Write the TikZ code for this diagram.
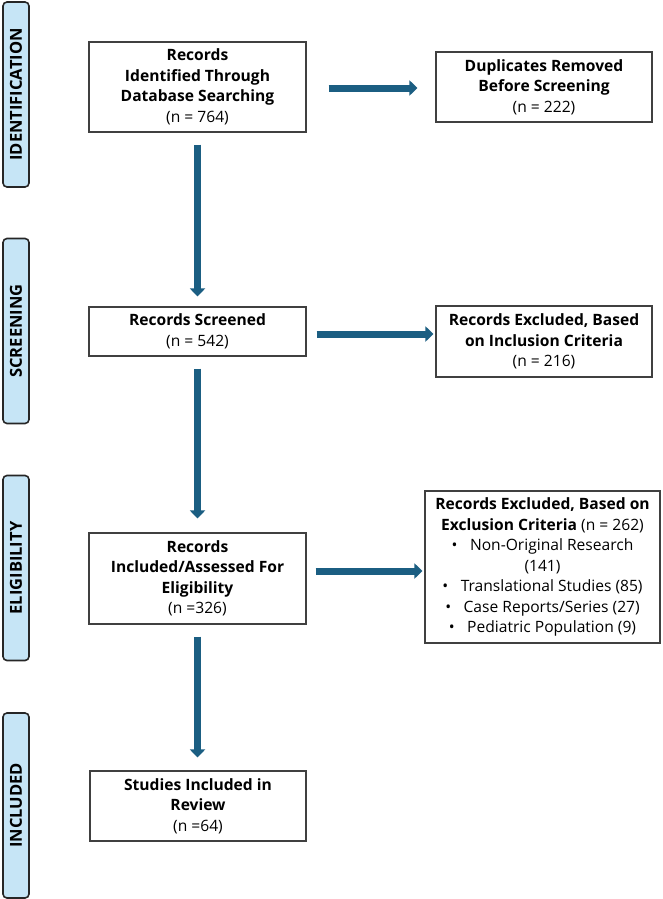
\documentclass[tikz,border=0pt]{standalone}
\usepackage{fontspec}
\setmainfont{Open Sans}
\usetikzlibrary{arrows.meta,calc}
\definecolor{arrowblue}{RGB}{27,94,130}
\definecolor{barfill}{RGB}{198,229,246}
\definecolor{boxline}{RGB}{64,64,64}
\begin{document}
\begin{tikzpicture}[x=1pt,y=-1pt,
 stagebar/.style={draw=black!85,line width=1.6pt,fill=barfill,rounded corners=4pt,rotate=90,
   minimum width=185pt,minimum height=26pt,inner sep=0pt,font=\fontsize{16.5}{18}\selectfont\bfseries},
 flowbox/.style={draw=boxline,line width=1.1pt,fill=white,align=center,inner sep=0pt,
   font=\fontsize{15.6}{20.5}\selectfont},
 arr/.style={draw=arrowblue,line width=7pt,-{Triangle[length=8pt,width=15pt]}}
]
\useasboundingbox (0,0) rectangle (663,899);
\fill[white] (0,0) rectangle (663,899);

% stage bars
\node[stagebar] (idbar) at (16,94.5) {IDENTIFICATION};
\node[stagebar] (scbar) at (16,331) {SCREENING};
\node[stagebar] (elbar) at (16,568) {ELIGIBILITY};
\node[stagebar] (inbar) at (16,805.5) {INCLUDED};

% boxes
\node[flowbox,minimum width=217pt,minimum height=90pt] (b1) at (197.5,87)
  {\textbf{Records}\\\textbf{Identified Through}\\\textbf{Database Searching}\\(n = 764)};
\node[flowbox,minimum width=216pt,minimum height=70pt] (b2) at (544,87)
  {\textbf{Duplicates Removed}\\\textbf{Before Screening}\\(n = 222)};
\node[flowbox,minimum width=217pt,minimum height=49pt] (b3) at (197.5,331.5)
  {\textbf{Records Screened}\\(n = 542)};
\node[flowbox,minimum width=216pt,minimum height=71pt] (b4) at (544,341.5)
  {\textbf{Records Excluded, Based}\\\textbf{on Inclusion Criteria}\\(n = 216)};
\node[flowbox,minimum width=217pt,minimum height=91pt] (b5) at (197.5,578.5)
  {\textbf{Records}\\\textbf{Included/Assessed For}\\\textbf{Eligibility}\\(n =326)};
\node[flowbox,minimum width=235pt,minimum height=152pt] (b6) at (542.5,567)
  {\textbf{Records Excluded, Based on}\\\textbf{Exclusion Criteria} (n = 262)\\
   •\hspace{0.8em}Non-Original Research\\(141)\\
   •\hspace{0.8em}Translational Studies (85)\\
   •\hspace{0.8em}Case Reports/Series (27)\\
   •\hspace{0.8em}Pediatric Population (9)};
\node[flowbox,minimum width=216pt,minimum height=70pt] (b7) at (198,806)
  {\textbf{Studies Included in}\\\textbf{Review}\\(n =64)};

% horizontal arrows
\draw[arr,shorten <=22pt,shorten >=18pt] ([yshift=-1pt]b1.east) -- ([yshift=-1pt]b1.east -| b2.west);
\draw[arr,shorten <=10pt,shorten >=2pt] ([yshift=-2.5pt]b3.east) -- ([yshift=-2.5pt]b3.east -| b4.west);
\draw[arr,shorten <=9pt,shorten >=2pt] ([yshift=7.5pt]b5.east) -- ([yshift=7.5pt]b5.east -| b6.west);

% vertical arrows
\draw[arr,shorten <=12pt,shorten >=10pt] (b1.south) -- (b3.north);
\draw[arr,shorten <=12pt,shorten >=14pt] (b3.south) -- (b5.north);
\draw[arr,shorten <=12pt,shorten >=13pt] (b5.south) -- (b5.south |- b7.north);
\end{tikzpicture}
\end{document}
